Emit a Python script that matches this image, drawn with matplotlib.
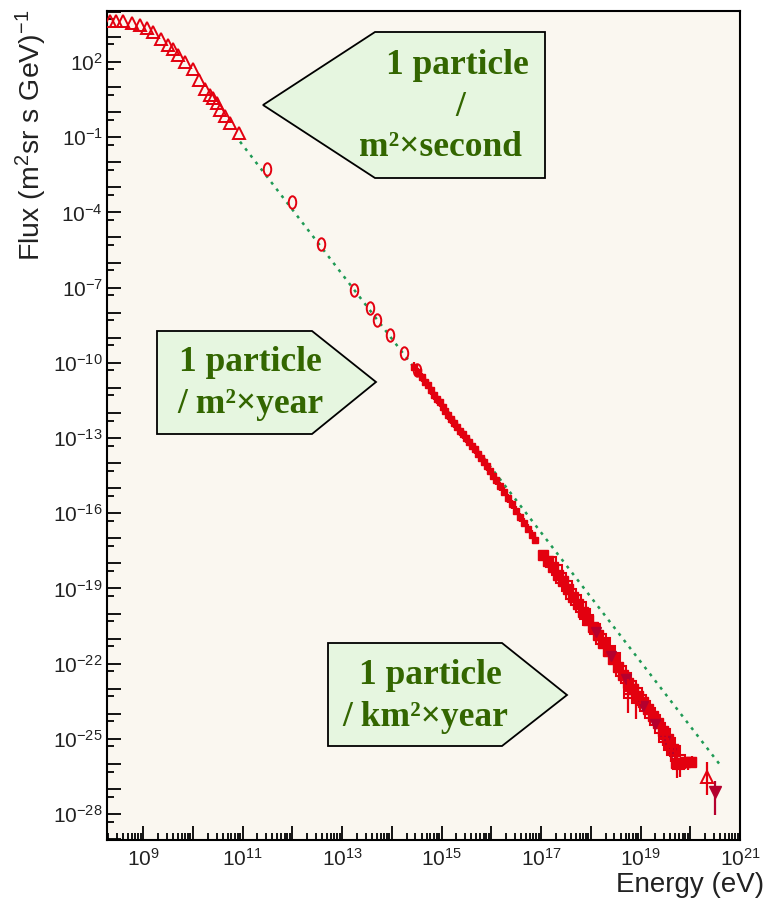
import numpy as np
import matplotlib
matplotlib.use("Agg")
import matplotlib.pyplot as plt
import matplotlib.path as mpath
from matplotlib.patches import Polygon
from matplotlib.ticker import FixedLocator, NullFormatter, FuncFormatter
from matplotlib.transforms import Affine2D

plt.rcParams['font.family'] = ['Liberation Sans', 'DejaVu Sans']
plt.rcParams['mathtext.fontset'] = 'custom'
plt.rcParams['mathtext.rm'] = 'Liberation Sans'
plt.rcParams['mathtext.it'] = 'Liberation Sans:italic'
plt.rcParams['mathtext.bf'] = 'Liberation Sans:bold'

# all values are log10(E / eV) and log10(flux)
low_logE = [8.34, 8.46, 8.59, 8.77, 8.93, 9.07, 9.21, 9.36, 9.51, 9.60, 9.71,
            9.84, 10.00, 10.13, 10.25, 10.35, 10.41, 10.48, 10.55, 10.65,
            10.75, 10.92]
low_logF = [3.65, 3.65, 3.63, 3.54, 3.48, 3.34, 3.18, 2.91, 2.68, 2.51, 2.28,
            2.01, 1.71, 1.28, 0.91, 0.68, 0.55, 0.35, 0.09, -0.15, -0.45,
            -0.84]

direct_logE = [11.49, 11.99, 12.57, 13.25, 13.56, 13.70, 13.96, 14.25, 14.50]
direct_logF = [-2.27, -3.60, -5.26, -7.09, -7.80, -8.29, -8.89, -9.62, -10.29]

knee_logE = [14.45, 14.52, 14.60, 14.66, 14.72, 14.78, 14.85, 14.90, 14.96,
             15.02, 15.08, 15.14, 15.20, 15.26, 15.32, 15.38, 15.44, 15.50,
             15.56, 15.62, 15.68, 15.74, 15.80, 15.86, 15.92, 15.98, 16.04,
             16.10, 16.18, 16.26, 16.34, 16.42, 16.50, 16.58, 16.66, 16.74,
             16.82, 16.88]
knee_logF = [-10.15, -10.38, -10.58, -10.75, -10.88, -11.10, -11.30, -11.45,
             -11.58, -11.78, -11.92, -12.10, -12.25, -12.40, -12.55, -12.72,
             -12.85, -13.00, -13.15, -13.30, -13.45, -13.62, -13.78, -13.95,
             -14.12, -14.30, -14.50, -14.68, -14.92, -15.15, -15.40, -15.65,
             -15.90, -16.15, -16.38, -16.62, -16.85, -17.05]

uhe_logE = [17.05, 17.15, 17.25, 17.35, 17.45, 17.55, 17.65, 17.75, 17.85,
            17.95, 18.05, 18.15, 18.25, 18.35, 18.45, 18.55, 18.65, 18.75,
            18.85, 18.95, 19.05, 19.15, 19.25, 19.35, 19.45, 19.55, 19.65,
            19.72, 19.80, 19.90, 20.02]
uhe_logF = [-17.66, -17.92, -18.15, -18.45, -18.72, -19.02, -19.32, -19.62,
            -19.92, -20.25, -20.55, -20.85, -21.18, -21.50, -21.82, -22.15,
            -22.45, -22.75, -23.02, -23.28, -23.52, -23.80, -24.10, -24.38,
            -24.70, -25.00, -25.40, -25.95, -25.95, -25.92, -25.90]

open_logE = [17.21, 17.32, 17.40, 17.52, 17.60, 17.70, 17.80, 17.88, 17.95,
             18.08, 18.20, 18.29, 18.38, 18.49, 18.60, 18.70, 18.80, 18.92,
             19.00, 19.10, 19.20, 19.30, 19.40, 19.50, 19.60, 19.70, 19.80]
open_logF = [-17.93, -18.28, -18.60, -18.92, -19.20, -19.45, -19.75, -20.00,
             -20.26, -20.62, -21.00, -21.19, -21.50, -21.79, -22.30, -22.55,
             -22.90, -23.15, -23.45, -23.70, -23.98, -24.25, -24.55, -24.80,
             -25.15, -25.50, -25.85]

dark_logE = [18.10, 18.40, 18.70, 19.05, 19.30, 19.50, 19.62]
dark_logF = [-20.75, -21.70, -22.60, -23.70, -24.40, -25.10, -25.55]

tail_logE = [18.74, 18.90, 19.45, 19.55, 19.62, 19.73, 19.80, 19.95, 20.03]
tail_logF = [-23.20, -23.40, -24.95, -25.30, -25.50, -26.04, -26.05, -25.92,
             -25.90]
tail_dlo = [0.75, 0.80, 0.35, 0.40, 0.40, 0.50, 0.45, 0.30, 0.25]
tail_dhi = [0.60, 0.65, 0.30, 0.35, 0.35, 0.35, 0.30, 0.20, 0.20]

top_logE = [20.34]
top_logF = [-26.53]
top_dlo = [0.70]
top_dhi = [0.62]

last_logE = [20.50]
last_logF = [-27.13]
last_dlo = [0.90]
last_dhi = [0.45]

# E^-2.6 reference line
ref_logE = [10.95, 20.64]
ref_logF = [-1.18, -26.14]

RED = '#e3000f'
DARK = '#b5002e'
GREEN = '#1f9a55'
W, H = 766, 905


def lin(v):
    return 10 ** np.asarray(v, dtype=float)


def log_err(logF, dlo, dhi):
    f = lin(logF)
    return [f - lin(np.asarray(logF) - dlo), lin(np.asarray(logF) + dhi) - f]


def px(x, y):
    return x / W, 1 - y / H


fig = plt.figure(figsize=(W / 100, H / 100), dpi=100)
fig.patch.set_facecolor('white')
ax = fig.add_axes([107 / W, 1 - 840 / H, (740 - 107) / W, (840 - 11) / H])
ax.set_facecolor('#faf7f0')
ax.set_xscale('log')
ax.set_yscale('log')
ax.set_xlim(10 ** 8.276, 1e21)
ax.set_ylim(10 ** -29.03, 10 ** 4.03)

ellipse = mpath.Path.unit_circle().transformed(Affine2D().scale(0.6, 1.0))

ax.plot(lin(ref_logE), lin(ref_logF), ls=(0, (1.2, 2.2)), color=GREEN,
        lw=1.8, zorder=2)

ax.plot(lin(low_logE), lin(low_logF), ls='none', marker='^', ms=8.5,
        mfc='none', mec=RED, mew=1.4, zorder=3)
ax.plot(lin(direct_logE), lin(direct_logF), ls='none', marker=ellipse, ms=9,
        mfc='none', mec=RED, mew=1.4, zorder=3)

knee_E = lin(knee_logE)
ax.errorbar(knee_E, lin(knee_logF),
            xerr=[knee_E - lin(np.asarray(knee_logE) - 0.06),
                  lin(np.asarray(knee_logE) + 0.06) - knee_E],
            yerr=log_err(knee_logF, 0.18, 0.18),
            fmt='s', ms=5, color=RED, mec=RED, elinewidth=1.6, capsize=0,
            zorder=3)

ax.plot(lin(uhe_logE), lin(uhe_logF), ls='none', marker='s', ms=7.5,
        color=RED, zorder=3)
ax.plot(lin(open_logE), lin(open_logF), ls='none', marker='s', ms=7,
        mfc='none', mec=RED, mew=1.5, zorder=4)
ax.plot(lin(dark_logE), lin(dark_logF), ls='none', marker='v', ms=7,
        color=DARK, zorder=4)

tail_E = lin(tail_logE)
ax.errorbar(tail_E, lin(tail_logF),
            xerr=[tail_E - lin(np.asarray(tail_logE) - 0.1),
                  lin(np.asarray(tail_logE) + 0.1) - tail_E],
            yerr=log_err(tail_logF, np.array(tail_dlo), np.array(tail_dhi)),
            fmt='s', ms=6, mfc='none', mec=RED, mew=1.5, color=RED,
            elinewidth=1.6, capsize=0, zorder=4)
ax.errorbar(lin(top_logE), lin(top_logF),
            yerr=log_err(top_logF, np.array(top_dlo), np.array(top_dhi)),
            fmt='^', ms=8, mfc='none', mec=RED, mew=1.4, color=RED,
            elinewidth=1.6, capsize=0, zorder=4)
ax.errorbar(lin(last_logE), lin(last_logF),
            yerr=log_err(last_logF, np.array(last_dlo), np.array(last_dhi)),
            fmt='v', ms=8, color=DARK, elinewidth=1.6, capsize=0, zorder=4)

# ROOT-like axis ticks: inward, every decade, labels every third / second
ax.xaxis.set_major_locator(FixedLocator(lin(np.arange(8, 22))))
ax.xaxis.set_minor_locator(FixedLocator(
    [m * 10.0 ** e for e in range(8, 21) for m in range(2, 10)]))
ax.xaxis.set_major_formatter(FuncFormatter(
    lambda v, p: r'$10^{%d}$' % round(np.log10(v))
    if round(np.log10(v)) % 2 == 1 else ''))
ax.xaxis.set_minor_formatter(NullFormatter())

ax.yaxis.set_major_locator(FixedLocator(lin(np.arange(-29, 5))))
ax.yaxis.set_minor_locator(FixedLocator(
    [5 * 10.0 ** e for e in range(-30, 4)]))
ax.yaxis.set_major_formatter(FuncFormatter(
    lambda v, p: r'$10^{%d}$' % round(np.log10(v))
    if round(np.log10(v)) % 3 == 2 else ''))
ax.yaxis.set_minor_formatter(NullFormatter())

ax.tick_params(which='both', direction='in', top=False, right=False,
               labelsize=15, labelcolor='#222222', width=1.3)
ax.tick_params(which='major', length=10)
ax.tick_params(which='minor', length=5)
ax.tick_params(axis='x', pad=6)
ax.tick_params(axis='y', pad=3)
for s in ax.spines.values():
    s.set_linewidth(1.5)

fig.text(*px(31, 10), r'Flux (m$^{2}$sr s GeV)$^{-1}$', rotation=90,
         ha='center', va='top', fontsize=20.5, color='#222222')
fig.text(*px(764, 885), 'Energy (eV)', ha='right', va='center',
         fontsize=20, color='#222222')

# rate call-outs
BOX_FC = '#e6f6e0'
TXT = '#336600'
callouts = [
    ([(263, 105), (375, 32), (545, 32), (545, 178), (375, 178)],
     [((457, 65), '1 particle'), ((460, 108), '/'),
      ((440, 148), 'm²×second')]),
    ([(157, 331), (312, 331), (376, 382), (312, 434), (157, 434)],
     [((250, 362), '1 particle'), ((250, 404), '/ m²×year')]),
    ([(328, 643), (502, 643), (567, 695), (502, 746), (328, 746)],
     [((430, 675), '1 particle'), ((425, 717), '/ km²×year')]),
]
for corners, lines in callouts:
    fig.add_artist(Polygon([px(*c) for c in corners], closed=True,
                           facecolor=BOX_FC, edgecolor='black', lw=1.3,
                           transform=fig.transFigure, zorder=5))
    for (x, y), s in lines:
        fig.text(*px(x, y), s, ha='center', va='center', fontsize=25.5,
                 fontweight='bold', color=TXT, family='Liberation Serif',
                 zorder=6)

fig.savefig('out.png', dpi=100)
